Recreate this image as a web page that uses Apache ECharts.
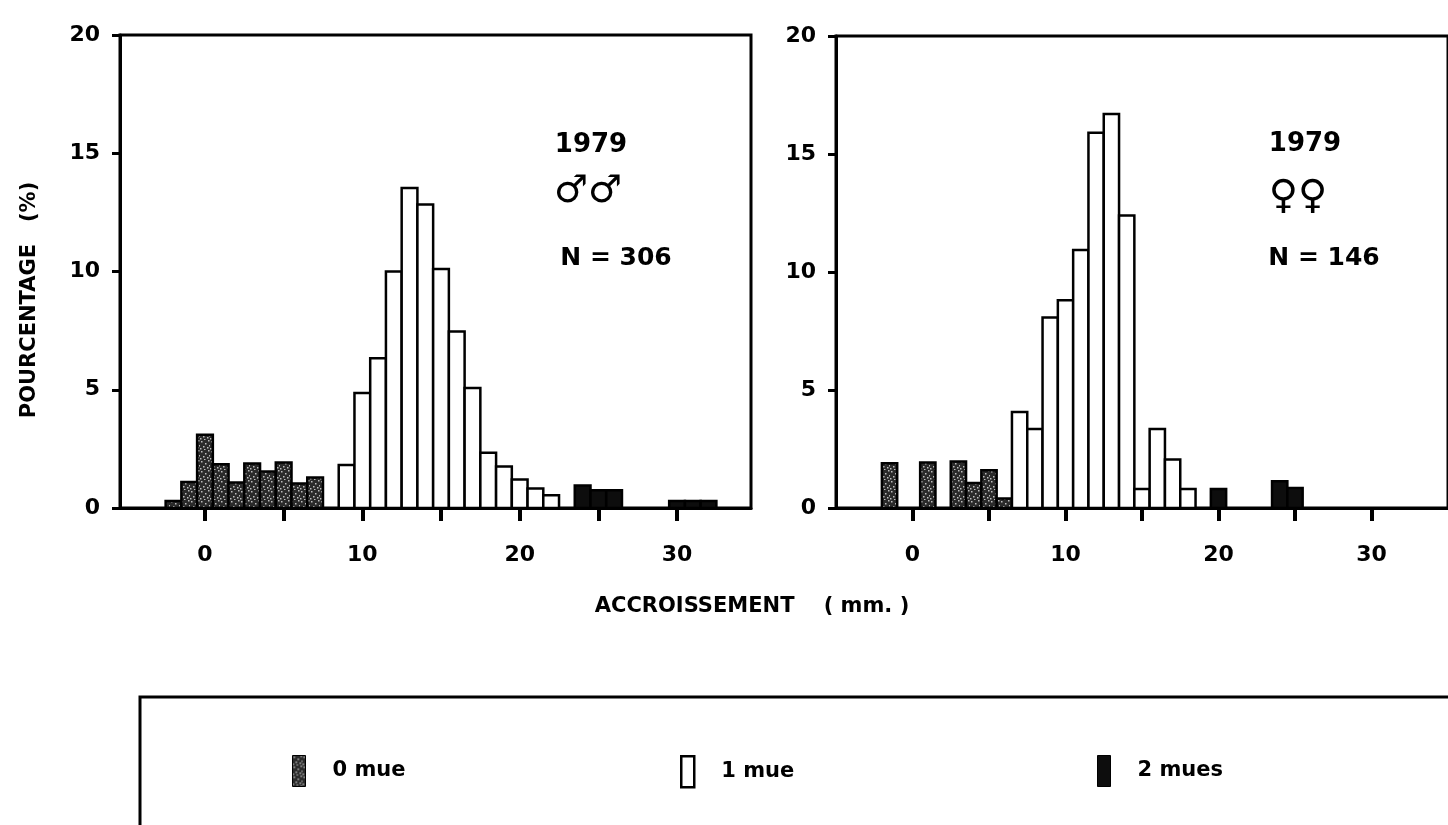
<!DOCTYPE html>
<html><head><meta charset="utf-8">
<script src="https://cdn.jsdelivr.net/npm/echarts@6/dist/echarts.min.js"></script>
<style>html,body{margin:0;padding:0;background:#fff}#c{width:1448px;height:825px}</style>
</head><body><div id="c"></div>
<script>
// ---- data ----
const seriesNames = ['0 mue', '1 mue', '2 mues'];
const xTickValues = [0, 5, 10, 15, 20, 25, 30];
const xLabelValues = [0, 10, 20, 30];

// Males 1979 (N = 306)
const maleX0 = [-2, -1, 0, 1, 2, 3, 4, 5, 6, 7];
const maleY0 = [0.3, 1.1, 3.1, 1.85, 1.08, 1.88, 1.54, 1.92, 1.04, 1.29];
const maleX1 = [9, 10, 11, 12, 13, 14, 15, 16, 17, 18, 19, 20, 21, 22];
const maleY1 = [1.82, 4.86, 6.33, 10.0, 13.53, 12.83, 10.11, 7.46, 5.07, 2.34, 1.75, 1.21, 0.82, 0.54];
const maleX2 = [24, 25, 26, 30, 31, 32];
const maleY2 = [0.95, 0.75, 0.75, 0.3, 0.3, 0.3];

// Females 1979 (N = 146)
const femaleX0 = [-1.5, 1, 3, 4, 5, 6];
const femaleY0 = [1.9, 1.93, 1.97, 1.06, 1.6, 0.4];
const femaleX1 = [7, 8, 9, 10, 11, 12, 13, 14, 15, 16, 17, 18];
const femaleY1 = [4.07, 3.35, 8.07, 8.8, 10.93, 15.9, 16.7, 12.39, 0.8, 3.35, 2.05, 0.8];
const femaleX2 = [20, 24, 25];
const femaleY2 = [0.8, 1.13, 0.85];

const yearText = '1979';
const maleTag = '\u2642\u2642';
const femaleTag = '\u2640\u2640';
const maleN = 'N = 306';
const femaleN = 'N = 146';
const yTitle = 'POURCENTAGE   (%)';
const xTitle = 'ACCROISSEMENT    ( mm. )';

// ---- styling ----
const FONT = 'DejaVu Sans';
function stippleCanvas() {
  const c = document.createElement('canvas');
  c.width = 10; c.height = 10;
  const g = c.getContext('2d');
  g.fillStyle = '#2a2a2a'; g.fillRect(0, 0, 10, 10);
  g.fillStyle = 'rgba(225,225,225,0.8)';
  [[1,1],[5,3],[8,0],[3,6],[7,7],[0,8],[9,5],[4,9]].forEach(p => g.fillRect(p[0], p[1], 1.5, 1.5));
  return c;
}
const stipFill = { image: stippleCanvas(), repeat: 'repeat' };
const fills = [stipFill, '#ffffff', '#0d0d0d'];

function renderBar(params, api) {
  const x = api.value(0), y = api.value(1);
  const p0 = api.coord([x - 0.5, y]);
  const p1 = api.coord([x + 0.5, 0]);
  return {
    type: 'rect',
    shape: { x: p0[0], y: p0[1], width: p1[0] - p0[0], height: p1[1] - p0[1] },
    style: { fill: fills[params.seriesIndex % 3], stroke: '#000', lineWidth: 2.5 }
  };
}
function mk(k, xs, ys, g) {
  return {
    type: 'custom', name: seriesNames[k], xAxisIndex: g, yAxisIndex: g,
    data: xs.map((x, i) => [x, ys[i]]), encode: { x: 0, y: 1 },
    renderItem: renderBar, itemStyle: { color: '#000' }, silent: true
  };
}
function xAx(g, min, max) {
  return {
    type: 'value', gridIndex: g, min: min, max: max,
    axisLine: { show: true, onZero: false, lineStyle: { color: '#000', width: 3 } },
    axisTick: { show: true, customValues: xTickValues, inside: false, length: 13, lineStyle: { color: '#000', width: 4 } },
    axisLabel: { show: true, customValues: xLabelValues, margin: 36, fontSize: 22, fontWeight: 'bold', fontFamily: FONT, color: '#000' },
    splitLine: { show: false }
  };
}
function yAx(g) {
  return {
    type: 'value', gridIndex: g, min: 0, max: 20, interval: 5,
    axisLine: { show: true, onZero: false, lineStyle: { color: '#000', width: 3 } },
    axisTick: { show: true, inside: false, length: 8, lineStyle: { color: '#000', width: 3 } },
    axisLabel: { show: true, margin: 20, fontSize: 22, fontWeight: 'bold', fontFamily: FONT, color: '#000' },
    splitLine: { show: false }
  };
}
function txt(x, y, text, size, rot, weight) {
  return {
    type: 'text', x: x, y: y, rotation: rot || 0, silent: true,
    style: { text: text, fontSize: size, fontWeight: weight || 'bold', fontFamily: FONT, fill: '#000',
      align: 'center', verticalAlign: 'middle', textAlign: 'center', textVerticalAlign: 'middle' }
  };
}
const legendCommon = {
  orient: 'horizontal', padding: 0, itemWidth: 13, itemHeight: 31, selectedMode: false,
  textStyle: { fontSize: 21, fontWeight: 'bold', fontFamily: FONT, color: '#000', padding: [0, 0, 0, 22] }
};

const chart = echarts.init(document.getElementById('c'), null, { renderer: 'canvas' });
chart.setOption({
  backgroundColor: '#fff',
  animation: false,
  grid: [
    { left: 120, top: 35, width: 631, height: 473, show: true, borderColor: '#000', borderWidth: 3, backgroundColor: 'transparent' },
    { left: 836, top: 36, width: 632, height: 472, show: true, borderColor: '#000', borderWidth: 3, backgroundColor: 'transparent' }
  ],
  xAxis: [xAx(0, -5.4, 34.7), xAx(1, -5, 35)],
  yAxis: [yAx(0), yAx(1)],
  legend: [
    Object.assign({ left: 292, top: 755, data: [{ name: seriesNames[0], icon: 'rect', itemStyle: { color: stipFill, borderColor: '#000', borderWidth: 1 } }] }, legendCommon),
    Object.assign({ left: 680, top: 755, data: [{ name: seriesNames[1], icon: 'rect', itemStyle: { color: '#fff', borderColor: '#000', borderWidth: 2.5 } }] }, legendCommon),
    Object.assign({ left: 1097, top: 755, data: [{ name: seriesNames[2], icon: 'rect', itemStyle: { color: '#0d0d0d', borderColor: '#000', borderWidth: 1 } }] }, legendCommon)
  ],
  series: [
    mk(0, maleX0, maleY0, 0), mk(1, maleX1, maleY1, 0), mk(2, maleX2, maleY2, 0),
    mk(0, femaleX0, femaleY0, 1), mk(1, femaleX1, femaleY1, 1), mk(2, femaleX2, femaleY2, 1)
  ],
  graphic: [
    txt(30, 300, yTitle, 21, Math.PI / 2),
    txt(752, 607, xTitle, 21),
    txt(591, 145, yearText, 26),
    txt(588, 192, maleTag, 38),
    txt(616, 258, maleN, 25),
    txt(1305, 144, yearText, 26),
    txt(1298, 198, femaleTag, 40),
    txt(1324, 258, femaleN, 25),
    { type: 'rect', silent: true, shape: { x: 140, y: 697, width: 1400, height: 200 },
      style: { fill: 'none', stroke: '#000', lineWidth: 3 } }
  ]
});
</script>
</body></html>
